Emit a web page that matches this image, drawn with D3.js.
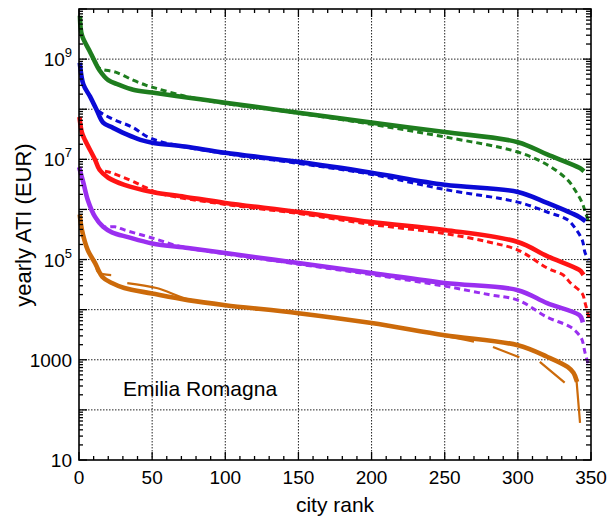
<!DOCTYPE html>
<html>
<head>
<meta charset="utf-8">
<script src="https://cdn.jsdelivr.net/npm/d3@7"></script>
<style>
  body { margin: 0; background: #fff; }
  text { font-family: "Liberation Sans", Arial, Helvetica, sans-serif; fill: #000; }
</style>
</head>
<body>
<svg id="chart" width="607" height="520"></svg>
<script>
// Yearly ATI (EUR) per city, ranked — Emilia Romagna.
// Each series: [city rank, yearly ATI]; null marks ranks with no value drawn.

const greenMain = [[0.7,6.6e9],[2,3.0e9],[7.5,1.4e9],[11,8.7e8],[14,6.0e8],[20,3.8e8],[27,3.1e8],[37,2.45e8],[50,2.15e8],[75,1.7e8],[100,1.35e8],[150,8.5e7],[200,5.4e7],[250,3.5e7],[300,2.2e7],[320,1.25e7],[342,6.8e6],[344,6.2e6]];
const greenAlt = [[0.7,6.6e9],[2,3.0e9],[7.5,1.4e9],[11,9.0e8],[14,6.6e8],[25,5.5e8],[37,3.8e8],[46,3.0e8],[53,2.6e8],[75,1.75e8],[100,1.3e8],[150,8.3e7],[200,5.0e7],[250,2.8e7],[300,1.4e7],[320,7.8e6],[334,3.9e6],[340,2.2e6],[344,1.35e6],[346,9.0e5],[348.5,5.6e5]];

const blueMain = [[0.7,7.6e8],[3,3.1e8],[7.5,1.8e8],[12,9.8e7],[16.5,5.4e7],[23,4.3e7],[33,3.1e7],[42,2.45e7],[50,2.15e7],[72.5,1.8e7],[100,1.35e7],[150,8.9e6],[200,5.4e6],[250,3.1e6],[300,2.24e6],[320,1.35e6],[342,7.1e5],[345,6.2e5]];
const blueAlt = [[0.7,7.6e8],[3,3.1e8],[7.5,1.8e8],[12,1.0e8],[21,6.8e7],[37,4.3e7],[47,2.8e7],[60,2.1e7],[100,1.3e7],[150,8.3e6],[200,5.0e6],[250,2.5e6],[300,1.4e6],[320,8.9e5],[334,6.2e5],[340,3.9e5],[344,2.45e5],[346,1.35e5],[348.5,9.8e4]];

const redMain = [[0.5,6.3e7],[2,3.4e7],[4,2.45e7],[11,9.8e6],[14,6.2e6],[20,4.3e6],[31,3.1e6],[50,2.24e6],[72,1.8e6],[100,1.35e6],[150,8.9e5],[200,5.6e5],[250,3.9e5],[300,2.24e5],[320,1.17e5],[342,6.2e4],[344,5.4e4]];
const redAlt = [[0.5,6.3e7],[2,3.4e7],[4,2.45e7],[11,9.8e6],[14,6.4e6],[22,5.4e6],[38,3.5e6],[45,2.8e6],[55,2.1e6],[100,1.26e6],[150,8.3e5],[200,5.0e5],[250,3.3e5],[280,2.24e5],[300,1.55e5],[320,6.8e4],[331,4.9e4],[336,3.4e4],[344,2.1e4],[346,1.35e4],[348.5,7.1e3]];

const purpleMain = [[0.5,6.3e6],[3,3.4e6],[6,1.55e6],[11,7.1e5],[16.5,4.5e5],[22.5,3.5e5],[33.5,2.8e5],[50,2.1e5],[74.5,1.7e5],[100,1.35e5],[150,8.5e4],[200,5.4e4],[250,3.4e4],[300,2.45e4],[320,1.35e4],[342,7.8e3],[344,6.2e3]];
const purpleAlt = [[0.5,6.3e6],[3,3.4e6],[6,1.55e6],[11,7.1e5],[16,4.6e5],[24.6,4.5e5],[31,3.9e5],[50,2.7e5],[70,1.8e5],[100,1.3e5],[150,8.1e4],[200,5.0e4],[250,2.95e4],[280,2.0e4],[300,1.55e4],[320,7.1e3],[336,4.5e3],[342,3.1e3],[344,2.45e3],[346,1.35e3],[348,850]];

const orangeMain = [[0.7,7.1e5],[2,3.9e5],[6,1.55e5],[11,8.5e4],[16,4.5e4],[22.5,3.4e4],[31,2.7e4],[50,2.1e4],[74.5,1.55e4],[100,1.23e4],[150,8.5e3],[200,5.4e3],[250,3.1e3],[300,1.95e3],[320,1.15e3],[334,720],[338,550],[340,400]];
const orangeAlt = [[0.7,7.1e5],[2,3.9e5],[6,1.55e5],[11,8.5e4],[13,5.6e4],[22,4.9e4],[26,null],[33,3.4e4],[53,2.7e4],[75,1.6e4],[100,1.25e4],[150,8.6e3],[200,5.3e3],[250,3.0e3],[270,2.3e3],[276,null],[283,1.8e3],[301,1.12e3],[308,null],[315,910],[332,350],[336,null],[340,420],[342.5,55]];

const seriesColors = { green: "#1e7d1e", blue: "#0a0ad6", red: "#ff1414", purple: "#9a2ff0", orange: "#cc6a0a" };

const xTickValues = [0, 50, 100, 150, 200, 250, 300, 350];
const yLabelExponents = [1, 3, 5, 7, 9];
const regionName = "Emilia Romagna";
const xTitle = "city rank";
const yTitle = "yearly ATI (EUR)";

const svg = d3.select("#chart");
const plotLeft = 79, plotRight = 591, plotTop = 9, plotBottom = 460;

const x = d3.scaleLinear().domain([0, 350]).range([plotLeft, plotRight]);
const y = d3.scaleLog().domain([10, 1e10]).range([plotBottom, plotTop]);

// dotted grid
const grid = svg.append("g").attr("stroke", "#222").attr("stroke-width", 1).attr("stroke-dasharray", "1.5,1.5");
xTickValues.filter(v => v > 0 && v < 350).forEach(v => {
  grid.append("line").attr("x1", x(v)).attr("x2", x(v)).attr("y1", plotTop).attr("y2", plotBottom);
});
d3.range(2, 10).forEach(k => {
  grid.append("line").attr("x1", plotLeft).attr("x2", plotRight).attr("y1", y(10 ** k)).attr("y2", y(10 ** k));
});

// series
const line = d3.line()
  .defined(d => d[1] != null)
  .curve(d3.curveCatmullRom.alpha(0.5))
  .x(d => x(d[0]))
  .y(d => y(d[1]));

const plot = svg.append("g");
function drawPair(main, alt, color, altStyle) {
  plot.append("path").datum(alt)
    .attr("d", line).attr("fill", "none").attr("stroke", color)
    .attr("stroke-width", altStyle.width).attr("stroke-dasharray", altStyle.dash)
    .attr("stroke-linecap", "butt");
  plot.append("path").datum(main)
    .attr("d", line).attr("fill", "none").attr("stroke", color)
    .attr("stroke-width", 4.6).attr("stroke-linejoin", "round").attr("stroke-linecap", "square");
}
const dashed = { width: 3, dash: "6,4" };
drawPair(greenMain, greenAlt, seriesColors.green, dashed);
drawPair(blueMain, blueAlt, seriesColors.blue, dashed);
drawPair(redMain, redAlt, seriesColors.red, dashed);
drawPair(purpleMain, purpleAlt, seriesColors.purple, dashed);
drawPair(orangeMain, orangeAlt, seriesColors.orange, { width: 2.2, dash: null });

// frame
svg.append("rect").attr("x", plotLeft).attr("y", plotTop).attr("width", plotRight - plotLeft).attr("height", plotBottom - plotTop)
  .attr("fill", "none").attr("stroke", "#000").attr("stroke-width", 1.6);

// inward ticks
const ticks = svg.append("g").attr("stroke", "#000").attr("stroke-width", 1.3);
d3.range(0, 351, 10).forEach(v => {
  const major = v % 50 === 0;
  const len = major ? 8 : 4;
  ticks.append("line").attr("x1", x(v)).attr("x2", x(v)).attr("y1", plotBottom).attr("y2", plotBottom - len);
  ticks.append("line").attr("x1", x(v)).attr("x2", x(v)).attr("y1", plotTop).attr("y2", plotTop + len);
});
d3.range(1, 11).forEach(k => {
  const base = 10 ** k;
  ticks.append("line").attr("x1", plotLeft).attr("x2", plotLeft + 8).attr("y1", y(base)).attr("y2", y(base));
  ticks.append("line").attr("x1", plotRight).attr("x2", plotRight - 8).attr("y1", y(base)).attr("y2", y(base));
  if (k < 10) {
    d3.range(2, 10).forEach(m => {
      const v = m * base;
      ticks.append("line").attr("x1", plotLeft).attr("x2", plotLeft + 4).attr("y1", y(v)).attr("y2", y(v));
      ticks.append("line").attr("x1", plotRight).attr("x2", plotRight - 5).attr("y1", y(v)).attr("y2", y(v));
    });
  }
});

// x tick labels
svg.append("g").selectAll("text").data(xTickValues).join("text")
  .attr("x", d => x(d)).attr("y", plotBottom + 24)
  .attr("text-anchor", "middle").attr("font-size", 19)
  .text(d => d);

// y tick labels: 10, 1000, 10^5, 10^7, 10^9
const yl = svg.append("g");
yLabelExponents.forEach(e => {
  const t = yl.append("text").attr("x", 72).attr("y", y(10 ** e) + 7)
    .attr("text-anchor", "end").attr("font-size", 19);
  if (e === 1) t.text("10");
  else if (e === 3) t.text("1000");
  else {
    t.append("tspan").text("10");
    t.append("tspan").attr("font-size", 13).attr("dy", -9).text(e);
  }
});

// titles
svg.append("text").attr("x", (plotLeft + plotRight) / 2).attr("y", 512)
  .attr("text-anchor", "middle").attr("font-size", 21).text(xTitle);
svg.append("text").attr("transform", "translate(31,225) rotate(-90)")
  .attr("text-anchor", "middle").attr("font-size", 22).text(yTitle);

svg.append("text").attr("x", 123).attr("y", 396).attr("font-size", 21).text(regionName);
</script>
</body>
</html>
